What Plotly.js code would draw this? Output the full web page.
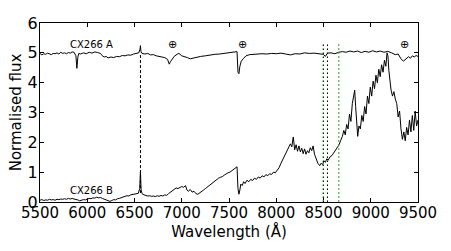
<!DOCTYPE html>
<html><head><meta charset="utf-8">
<script src="https://cdn.plot.ly/plotly-3.0.1.min.js"></script>
<style>html,body{margin:0;padding:0;background:#fff}#chart{width:451px;height:251px}</style>
</head><body><div id="chart"></div>
<script>
// Spectrum A (offset, top)
const wlA = [5500,5520,5540,5560,5580,5600,5620,5640,5660,5680,5700,5720,5740,5760,5780,5800,5820,5840,5860,5880,5890,5900,5910,5930,5960,5990,6020,6050,6080,6110,6140,6160,6180,6200,6220,6250,6280,6310,6340,6370,6400,6430,6460,6490,6520,6545,6558,6563,6568,6580,6610,6640,6670,6700,6730,6760,6790,6820,6850,6868,6880,6900,6920,6950,6970,7000,7030,7060,7090,7120,7150,7200,7250,7300,7350,7400,7450,7500,7550,7585,7595,7605,7615,7630,7650,7680,7720,7760,7800,7850,7900,7950,8000,8050,8100,8150,8200,8250,8300,8350,8400,8450,8498,8520,8542,8580,8620,8662,8700,8740,8780,8820,8860,8900,8940,8980,9020,9060,9100,9140,9180,9220,9260,9290,9320,9345,9370,9400,9420,9440,9460,9480,9500];
const fluxA = [4.98,4.93,4.97,4.95,4.99,4.96,4.94,4.98,4.97,5.00,4.96,5.02,4.98,5.00,4.97,5.01,4.99,5.03,5.02,4.90,4.48,4.85,4.98,4.96,5.00,4.97,5.02,4.99,5.03,5.01,4.98,4.90,4.86,4.88,4.83,4.86,4.84,4.88,4.87,4.91,4.90,4.93,4.92,4.96,4.98,5.00,5.12,5.24,5.05,4.98,4.96,4.98,4.93,4.94,4.90,4.88,4.86,4.84,4.78,4.62,4.70,4.80,4.88,4.95,4.98,4.90,4.88,4.84,4.80,4.82,4.86,4.88,4.90,4.93,4.95,4.96,4.98,4.99,5.02,5.04,4.35,4.30,4.55,4.72,4.80,4.90,4.94,4.95,4.96,4.97,4.96,4.98,4.97,4.99,4.96,4.93,4.97,4.96,5.00,4.98,4.99,4.97,4.95,4.88,4.99,5.00,4.97,5.02,5.04,5.02,5.06,5.03,5.06,5.01,5.05,5.02,5.07,5.03,5.06,5.02,5.05,5.00,4.94,4.96,4.80,4.72,4.78,4.87,4.82,4.90,4.86,4.91,4.88];
// Spectrum B (bottom)
const wlB = [5500,5520,5540,5560,5580,5600,5620,5640,5660,5680,5700,5720,5740,5760,5780,5800,5820,5840,5860,5880,5900,5920,5940,5960,5980,6000,6020,6040,6060,6080,6100,6120,6140,6160,6180,6200,6220,6240,6260,6280,6300,6320,6340,6360,6380,6400,6420,6440,6460,6480,6500,6520,6540,6555,6563,6570,6580,6600,6620,6640,6660,6680,6700,6720,6740,6760,6780,6800,6820,6840,6860,6880,6900,6920,6940,6960,6980,7000,7020,7040,7055,7070,7090,7110,7130,7150,7170,7190,7210,7230,7250,7270,7290,7310,7330,7350,7370,7390,7410,7430,7450,7470,7490,7510,7530,7550,7570,7585,7595,7605,7615,7625,7640,7655,7670,7690,7710,7730,7750,7770,7790,7810,7830,7850,7870,7890,7910,7930,7950,7970,7990,8010,8030,8050,8070,8090,8110,8130,8150,8165,8180,8195,8210,8225,8240,8255,8270,8285,8300,8315,8330,8345,8360,8375,8390,8405,8420,8440,8460,8475,8490,8505,8520,8535,8550,8570,8590,8610,8630,8650,8665,8680,8700,8715,8730,8745,8760,8775,8790,8805,8818,8830,8840,8850,8862,8875,8890,8905,8920,8935,8950,8965,8980,8995,9010,9025,9040,9055,9070,9085,9100,9115,9130,9145,9160,9172,9182,9192,9205,9215,9230,9245,9260,9275,9290,9305,9320,9335,9350,9365,9380,9395,9410,9425,9440,9455,9470,9485,9500];
const fluxB = [0.06,0.08,0.05,0.07,0.06,0.09,0.07,0.08,0.06,0.09,0.08,0.10,0.09,0.11,0.09,0.12,0.10,0.12,0.10,0.09,0.07,0.04,0.06,0.08,0.07,0.10,0.12,0.11,0.14,0.13,0.16,0.14,0.15,0.12,0.10,0.06,0.04,0.02,0.05,0.08,0.07,0.11,0.12,0.15,0.17,0.19,0.21,0.20,0.24,0.25,0.27,0.26,0.29,0.45,1.02,0.40,0.28,0.24,0.22,0.20,0.21,0.19,0.20,0.18,0.21,0.19,0.22,0.20,0.24,0.22,0.28,0.33,0.38,0.44,0.47,0.45,0.50,0.52,0.49,0.55,0.40,0.36,0.42,0.33,0.36,0.28,0.26,0.30,0.34,0.40,0.45,0.50,0.55,0.62,0.68,0.72,0.75,0.80,0.83,0.85,0.90,0.95,0.98,1.00,1.05,1.08,1.13,1.18,0.45,0.26,0.40,0.60,0.55,0.68,0.62,0.73,0.68,0.76,0.72,0.80,0.76,0.84,0.80,0.88,0.84,0.92,0.88,0.95,0.92,1.00,0.98,1.08,1.15,1.30,1.42,1.55,1.68,1.80,1.95,1.85,2.18,1.75,1.92,1.70,1.88,1.68,1.80,1.62,1.78,1.60,1.72,1.65,1.82,1.72,1.88,1.60,1.45,1.30,1.22,1.30,1.25,1.38,1.33,1.45,1.40,1.52,1.56,1.65,1.72,1.85,1.92,2.05,2.20,2.40,2.25,2.60,2.45,2.95,2.70,3.30,3.55,3.75,3.20,2.70,2.20,2.55,2.45,2.90,2.70,3.20,2.95,3.55,3.30,3.85,3.55,4.05,3.80,4.25,4.00,4.45,4.20,4.60,4.35,4.75,4.55,5.00,4.90,4.40,4.00,3.75,3.55,3.70,3.45,3.30,2.85,3.05,2.45,2.10,2.35,2.05,2.50,2.25,2.75,2.35,2.90,2.40,3.05,2.55,2.75];

// Marker lines
const haLine = {x: 6563, y0: 0.3, y1: 5.0};
const caLinesBlack = [8498, 8542];
const caLinesGreen = [8498, 8542, 8662];
const lineTop = 5.3;
// Annotations
const labels = [{text: 'CX266 A', x: 6050, y: 5.27}, {text: 'CX266 B', x: 6050, y: 0.4}];
const tellurics = [6900, 7645, 9355];
const telluricY = 5.27;
const xTicks = [5500,6000,6500,7000,7500,8000,8500,9000,9500];
const yTicks = [0,1,2,3,4,5,6];

const traces = [
  {x: wlA, y: fluxA, type: 'scatter', mode: 'lines', line: {color: '#000', width: 1}, hoverinfo: 'skip'},
  {x: wlB, y: fluxB, type: 'scatter', mode: 'lines', line: {color: '#000', width: 1}, hoverinfo: 'skip'}
];

const shapes = [];
caLinesGreen.forEach(v => shapes.push({type: 'line', xref: 'x', yref: 'y', x0: v, x1: v, y0: 0, y1: lineTop, line: {color: '#2ca02c', width: 1, dash: '2px,2px'}}));
caLinesBlack.forEach(v => shapes.push({type: 'line', xref: 'x', yref: 'y', x0: v, x1: v, y0: 0, y1: lineTop, line: {color: '#000', width: 1, dash: '1px,3px'}}));
shapes.push({type: 'line', xref: 'x', yref: 'y', x0: haLine.x, x1: haLine.x, y0: haLine.y0, y1: haLine.y1, line: {color: '#000', width: 1, dash: '3px,2px'}});

const annotations = labels.map(l => ({x: l.x, y: l.y, text: l.text, showarrow: false, xref: 'x', yref: 'y', font: {size: 10, color: '#000', family: 'DejaVu Sans'}}));
tellurics.forEach(v => annotations.push({x: v, y: telluricY, text: '⊕', showarrow: false, xref: 'x', yref: 'y', font: {size: 11, color: '#000', family: 'DejaVu Sans'}}));

const layout = {
  width: 451, height: 251,
  margin: {l: 40, r: 33, t: 23, b: 49},
  paper_bgcolor: '#fff', plot_bgcolor: '#fff',
  showlegend: false,
  font: {family: 'DejaVu Sans', color: '#000', size: 15},
  xaxis: {range: [5500, 9500], tickvals: xTicks, ticktext: xTicks.map(String), ticks: 'inside', ticklen: 4, tickcolor: '#000',
    showline: true, linecolor: '#000', linewidth: 1, mirror: 'ticks', showgrid: false, zeroline: false,
    tickfont: {size: 15}, ticklabelstandoff: -3, title: {text: 'Wavelength (Å)', font: {size: 15}, standoff: 0}},
  yaxis: {range: [0, 6], tickvals: yTicks, ticktext: yTicks.map(String), ticks: 'inside', ticklen: 4, tickcolor: '#000',
    showline: true, linecolor: '#000', linewidth: 1, mirror: 'ticks', showgrid: false, zeroline: false,
    tickfont: {size: 16}, ticklabelstandoff: -2, title: {text: 'Normalised flux', font: {size: 15}, standoff: 2}},
  shapes: shapes,
  annotations: annotations
};
Plotly.newPlot('chart', traces, layout, {staticPlot: true, displayModeBar: false});
</script>
</body></html>
